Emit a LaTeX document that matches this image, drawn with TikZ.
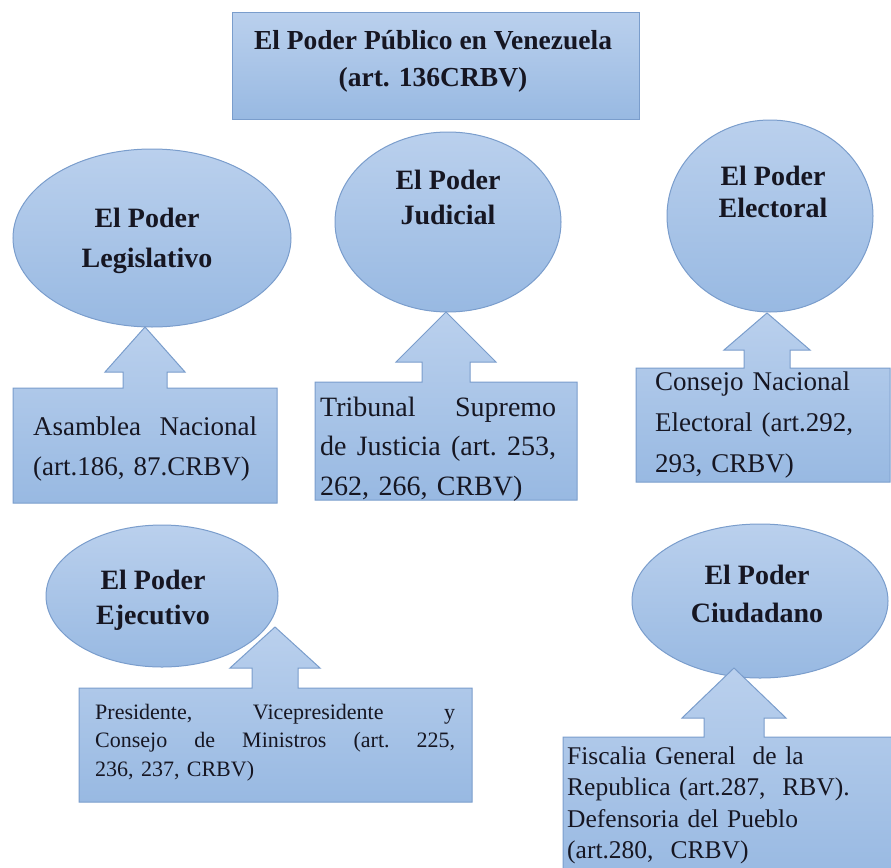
\documentclass[tikz,border=0pt]{standalone}
\usepackage{fontspec}
\setmainfont{Liberation Serif}
\usetikzlibrary{shapes.geometric}
\definecolor{fillA}{RGB}{186,208,237}
\definecolor{fillB}{RGB}{152,185,226}
\definecolor{edgec}{RGB}{122,157,204}
\definecolor{ink}{RGB}{22,22,34}
\newcommand\drawcallout[9]{%
  \draw[callshape] (#1,#2) -- ({#5-#9},#2) -- ({#5-#9},#7) -- ({#5-#8},#7) -- (#5,#6)
    -- ({#5+#8},#7) -- ({#5+#9},#7) -- ({#5+#9},#2) -- (#3,#2) -- (#3,#4) -- (#1,#4) -- cycle;}
\begin{document}
\begin{tikzpicture}[x=1pt,y=-1pt,
  ell/.style={ellipse, draw=edgec, line width=1pt, top color=fillA, bottom color=fillB, inner sep=0pt},
  callshape/.style={draw=edgec, line width=1pt, top color=fillA, bottom color=fillB, line join=miter},
  tbox/.style={rectangle, draw=edgec, line width=1pt, top color=fillA, bottom color=fillB, inner sep=0pt},
  ttl/.style={font=\bfseries\fontsize{27.5}{36}\selectfont, align=center, anchor=base, inner sep=0pt, text=ink},
  lbl/.style={font=\bfseries\fontsize{28}{#1}\selectfont, align=center, anchor=base, inner sep=0pt, text=ink},
  btxt/.style={anchor=base west, inner sep=0pt, align=left, text=ink}
]
\useasboundingbox (0,0) rectangle (891,867);
\clip (0,0) rectangle (891,867);

% title
\node[tbox, minimum width=407pt, minimum height=106pt] (tb) at (435.5,66) {};
\node[ttl] (title) at (433,86) {El Poder Público en Venezuela\\(art. 136CRBV)};

% ellipses
\node[ell, minimum width=278pt, minimum height=178pt] (eleg) at (152,238) {};
\node[ell, minimum width=226pt, minimum height=180pt] (ejud) at (448,222) {};
\node[ell, minimum width=206pt, minimum height=192pt] (eelec) at (770,216) {};
\node[ell, minimum width=232pt, minimum height=142pt] (eejec) at (162,596) {};
\node[ell, minimum width=256pt, minimum height=154pt] (eciud) at (760,601) {};

\node[lbl=40] (tleg) at (147,267) {El Poder\\Legislativo};
\node[lbl=35] (tjud) at (448,224) {El Poder\\Judicial};
\node[lbl=32] (telec) at (773,217) {El Poder\\Electoral};
\node[lbl=35] (tejec) at (153,624) {El Poder\\Ejecutivo};
\node[lbl=38] (tciud) at (757,622) {El Poder\\Ciudadano};

% callouts
\drawcallout{13}{388}{277}{503}{145}{327}{372}{40}{22}
\drawcallout{315}{382}{577}{500}{446}{312}{362}{50}{24}
\drawcallout{636}{368}{890}{482}{767}{313}{350}{43}{23}
\drawcallout{79}{688}{472}{802}{275}{627}{668}{45}{23}
\drawcallout{563}{737}{905}{880}{734}{668}{718}{52}{30}

% callout texts
\node[btxt, text width=224pt, font=\fontsize{27}{40}\selectfont] (bleg) at (33,435)
  {Asamblea\hfill Nacional\\(art.186, 87.CRBV)};
\node[btxt, text width=236pt, font=\fontsize{28}{39.5}\selectfont] (bjud) at (320,416)
  {Tribunal\hfill Supremo\\de\hfill Justicia\hfill (art.\hfill 253,\\262, 266, CRBV)};
\node[btxt, text width=230pt, font=\fontsize{27}{41}\selectfont] (belec) at (655,390)
  {Consejo Nacional\\Electoral (art.292,\\293, CRBV)};
\node[btxt, text width=360pt, font=\fontsize{22}{28.5}\selectfont] (bejec) at (95,719)
  {Presidente,\hfill Vicepresidente\hfill y\\Consejo\hfill de\hfill Ministros\hfill (art.\hfill 225,\\236, 237, CRBV)};
\node[btxt, text width=320pt, font=\fontsize{25.5}{31.5}\selectfont] (bciud) at (567,764)
  {Fiscalia General\ \ de la\\Republica (art.287,\ \ RBV).\\Defensoria del Pueblo\\(art.280,\ \ CRBV)};
\end{tikzpicture}
\end{document}
